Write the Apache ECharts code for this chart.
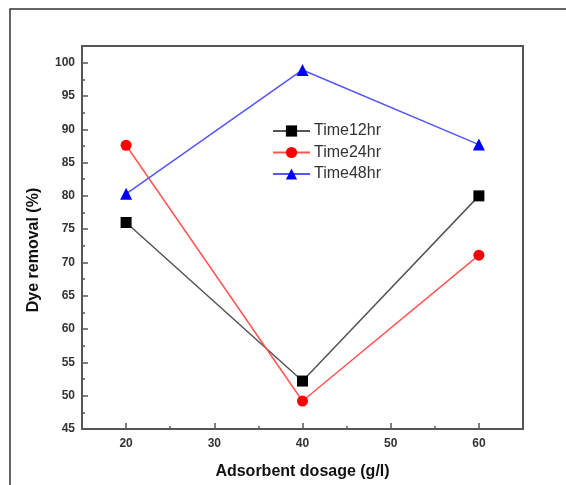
<!DOCTYPE html>
<html>
<head>
<meta charset="utf-8">
<script src="https://cdn.jsdelivr.net/npm/echarts@6/dist/echarts.min.js"></script>
<style>
  html, body { margin: 0; padding: 0; background: #fff; }
  #chart { width: 566px; height: 485px; }
</style>
</head>
<body>
<div id="chart"></div>
<script>
// dosage (g/l)
var dosage = [20, 40, 60];
var time12 = [76.0, 52.2, 80.0];
var time24 = [87.6, 49.2, 71.1];
var time48 = [80.3, 98.9, 87.7];

var xMajor = [20, 30, 40, 50, 60];
var xMinor = [25, 35, 45, 55];
var yMajor = [45, 50, 55, 60, 65, 70, 75, 80, 85, 90, 95, 100];
var yMinor = [47.5, 52.5, 57.5, 62.5, 67.5, 72.5, 77.5, 82.5, 87.5, 92.5, 97.5];

var axisColor = "#555";
var font = "Arial, 'Liberation Sans', sans-serif";

function pairs(ys) {
  return dosage.map(function (x, i) { return [x, ys[i]]; });
}

var chart = echarts.init(document.getElementById("chart"));
chart.setOption({
  animation: false,
  backgroundColor: "#fff",
  textStyle: { fontFamily: font },
  grid: { left: 82, right: 43, top: 46, bottom: 55 },
  graphic: [
    {
      type: "rect",
      shape: { x: 10, y: 9, width: 620, height: 620 },
      style: { fill: "none", stroke: "#333", lineWidth: 1.5 },
      silent: true
    },
    {
      type: "text",
      x: 34,
      y: 250,
      rotation: Math.PI / 2,
      style: {
        text: "Dye removal (%)",
        font: "bold 16px " + font,
        fill: "#111",
        align: "center",
        verticalAlign: "middle"
      }
    }
  ],
  legend: {
    orient: "vertical",
    left: 272,
    top: 123,
    padding: 0,
    itemWidth: 37,
    itemHeight: 14,
    itemGap: 5.5,
    textStyle: { fontSize: 16, color: "#333", fontFamily: font, padding: [0, 0, 0, -1] }
  },
  xAxis: [
    {
      type: "value",
      min: 15,
      max: 65,
      position: "bottom",
      name: "Adsorbent dosage (g/l)",
      nameLocation: "middle",
      nameGap: 35,
      nameTextStyle: { fontSize: 16, fontWeight: "bold", color: "#111" },
      axisLine: { show: true, lineStyle: { color: axisColor, width: 2 } },
      axisTick: { show: true, inside: true, length: 6, customValues: xMajor, lineStyle: { color: axisColor, width: 1.5 } },
      axisLabel: { customValues: xMajor, margin: 9, fontSize: 12, fontWeight: "bold", color: "#333" },
      splitLine: { show: false }
    },
    {
      type: "value",
      min: 15,
      max: 65,
      position: "bottom",
      axisLine: { show: false },
      axisTick: { show: true, inside: true, length: 3, customValues: xMinor, lineStyle: { color: axisColor, width: 1.5 } },
      axisLabel: { show: false },
      splitLine: { show: false }
    },
    {
      type: "value",
      min: 15,
      max: 65,
      position: "top",
      axisLine: { show: true, lineStyle: { color: axisColor, width: 2 } },
      axisTick: { show: false },
      axisLabel: { show: false },
      splitLine: { show: false }
    }
  ],
  yAxis: [
    {
      type: "value",
      min: 45,
      max: 102.5,
      position: "left",
      axisLine: { show: true, lineStyle: { color: axisColor, width: 2 } },
      axisTick: { show: true, inside: true, length: 6, customValues: yMajor, lineStyle: { color: axisColor, width: 1.5 } },
      axisLabel: { customValues: yMajor, margin: 7, fontSize: 12, fontWeight: "bold", color: "#333" },
      splitLine: { show: false }
    },
    {
      type: "value",
      min: 45,
      max: 102.5,
      position: "left",
      axisLine: { show: false },
      axisTick: { show: true, inside: true, length: 3, customValues: yMinor, lineStyle: { color: axisColor, width: 1.5 } },
      axisLabel: { show: false },
      splitLine: { show: false }
    },
    {
      type: "value",
      min: 45,
      max: 102.5,
      position: "right",
      axisLine: { show: true, lineStyle: { color: axisColor, width: 2 } },
      axisTick: { show: false },
      axisLabel: { show: false },
      splitLine: { show: false }
    }
  ],
  series: [
    {
      name: "Time12hr",
      data: pairs(time12),
      symbol: "rect",
      symbolSize: 11,
      itemStyle: { color: "#000" },
      lineStyle: { color: "#555" }
    },
    {
      name: "Time24hr",
      data: pairs(time24),
      symbol: "circle",
      symbolSize: 11,
      itemStyle: { color: "#ff0000" },
      lineStyle: { color: "#ff5555" }
    },
    {
      name: "Time48hr",
      data: pairs(time48),
      symbol: "triangle",
      symbolSize: 12,
      itemStyle: { color: "#0000ff" },
      lineStyle: { color: "#5555ff" }
    }
  ].map(function (s) {
    return Object.assign({
      type: "line",
      xAxisIndex: 0,
      yAxisIndex: 0,
      showAllSymbol: true
    }, s, { lineStyle: Object.assign({ width: 1.5 }, s.lineStyle) });
  })
});
</script>
</body>
</html>
